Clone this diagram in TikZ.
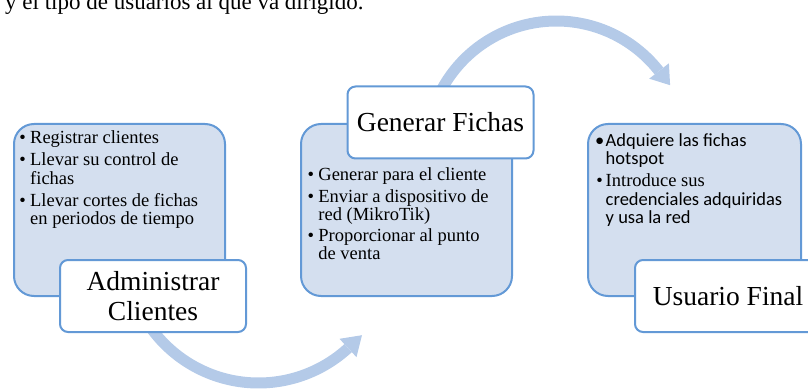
\documentclass[tikz,border=0pt]{standalone}
\usepackage{fontspec}
\setmainfont{Liberation Serif}
\newfontfamily\calib{Carlito}
\definecolor{panelfill}{HTML}{D4DFEF}
\definecolor{panelline}{HTML}{6399D6}
\definecolor{arrowc}{HTML}{B4CAE8}
\tikzset{
  panel/.style={draw=panelline, line width=2pt, fill=panelfill, rounded corners=20pt,
    minimum height=172pt, anchor=north west, inner sep=0pt},
  titlebox/.style={draw=panelline, line width=2pt, fill=white, rounded corners=8pt,
    minimum width=186pt, minimum height=72pt, align=center, inner sep=0pt,
    font=\fontsize{27.5}{30}\selectfont},
  bullets/.style={anchor=base west, inner sep=0pt, font=\fontsize{18.5}{18.5}\selectfont},
  flowline/.style={draw=arrowc, line width=11pt},
  flowhead/.style={fill=arrowc}
}
\newcommand{\bdot}{\makebox[7pt][c]{•}}
\begin{document}
\begin{tikzpicture}[x=1pt,y=-1pt]
\useasboundingbox (0,0) rectangle (808,390);
\clip (0,0) rectangle (808,390);

% top clipped sentence
\node[anchor=base west, inner sep=0pt, font=\fontsize{23}{23}\selectfont] (intro) at (5,9.5)
  {y el tipo de usuarios al que va dirigido.};

% bottom curved arrow
\draw[flowline] plot[domain=148:47.5, samples=80, variable=\t]
  ({258.5+132.6*cos(\t)},{250.4+132.6*sin(\t)});
\coordinate (tipB) at (362,335.2);
\coordinate (cB1) at (356.5,357.2);
\coordinate (cB2) at (339.5,338.8);
\fill[flowhead] (tipB) -- (cB1) -- (cB2) -- cycle;

% top curved arrow
\draw[flowline] plot[domain=-154.4:-38, samples=80, variable=\t]
  ({556.35+130.2*cos(\t)},{151.2+130.2*sin(\t)});
\coordinate (tipT) at (670.1,85.2);
\coordinate (cT1) at (668.9,63.3);
\coordinate (cT2) at (649.2,78.7);
\fill[flowhead] (tipT) -- (cT1) -- (cT2) -- cycle;

% panels
\node[panel, minimum width=211pt] (p1) at (13,123) {};
\node[panel, minimum width=211pt] (p2) at (300,123) {};
\node[panel, minimum width=213pt] (p3) at (587,123) {};

% bullet texts
\node[bullets] (t1) at (19,143.5) {\begin{tabular}[t]{@{}l@{\hspace{4pt}}l@{}}
\bdot & Registrar clientes\\[3.5pt]
\bdot & Llevar su control de\\
      & fichas\\[3.5pt]
\bdot & Llevar cortes de fichas\\
      & en periodos de tiempo
\end{tabular}};

\node[bullets] (t2) at (307.2,181) {\begin{tabular}[t]{@{}l@{\hspace{4pt}}l@{}}
\bdot & Generar para el cliente\\[2.5pt]
\bdot & Enviar a dispositivo de\\
      & red (MikroTik)\\[2.5pt]
\bdot & Proporcionar al punto\\
      & de venta
\end{tabular}};

\node[bullets] (t3) at (596,146.3) {\begin{tabular}[t]{@{}l@{\hspace{2.5pt}}l@{}}
{\calib\bdot} & {\calib Adquiere las fichas}\\
      & {\calib hotspot}\\[3.5pt]
\bdot & Introduce sus\\
      & {\calib credenciales adquiridas}\\
      & {\calib y usa la red}
\end{tabular}};

% title boxes
\node[titlebox] (h1) at (153,296) {Administrar\\Clientes};
\node[titlebox] (h2) at (440.5,122.5) {Generar Fichas};
\node[titlebox] (h3) at (728,296) {Usuario Final};
\end{tikzpicture}
\end{document}
